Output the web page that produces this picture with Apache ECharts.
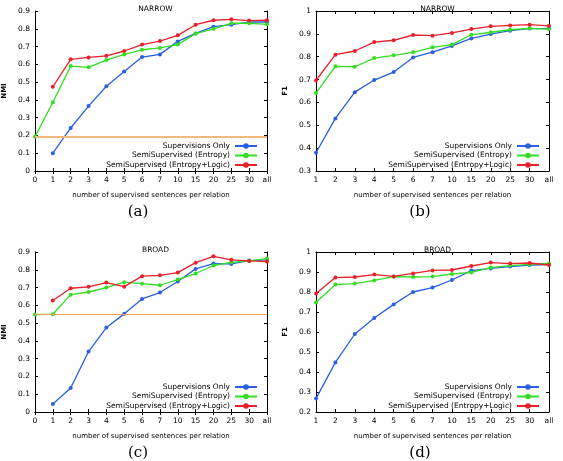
<!DOCTYPE html>
<html><head><meta charset="utf-8">
<script src="https://cdn.jsdelivr.net/npm/echarts@6/dist/echarts.min.js"></script>
<style>html,body{margin:0;padding:0;background:#fff}#c{width:563px;height:461px}</style>
</head><body><div id="c"></div>
<script>
// ---- data ----
var catsNMI = ['0','1','2','3','4','5','6','7','10','15','20','25','30','all'];
var catsF1  = ['1','2','3','4','5','6','7','10','15','20','25','30','all'];
var seriesNames = ['Supervisions Only','SemiSupervised (Entropy)','SemiSupervised (Entropy+Logic)'];

// (a) NARROW NMI
var aSup   = [null,0.100,0.242,0.365,0.477,0.560,0.641,0.656,0.729,0.774,0.812,0.823,0.838,0.838];
var aEnt   = [0.192,0.387,0.590,0.583,0.624,0.656,0.682,0.692,0.711,0.773,0.800,0.831,0.831,0.825];
var aLog   = [null,0.474,0.628,0.639,0.648,0.675,0.711,0.731,0.763,0.823,0.848,0.853,0.846,0.848];
var aBase  = 0.192;
// (b) NARROW F1
var bSup   = [0.380,0.530,0.645,0.698,0.733,0.797,0.820,0.847,0.880,0.899,0.914,0.923,0.923];
var bEnt   = [0.641,0.758,0.756,0.794,0.806,0.819,0.841,0.853,0.896,0.907,0.918,0.924,0.921];
var bLog   = [0.696,0.809,0.825,0.864,0.872,0.895,0.892,0.904,0.921,0.933,0.937,0.940,0.935];
// (c) BROAD NMI
var cSup   = [null,0.045,0.135,0.340,0.475,0.552,0.636,0.672,0.734,0.805,0.835,0.833,0.852,0.856];
var cEnt   = [0.548,0.550,0.660,0.675,0.700,0.730,0.722,0.713,0.745,0.779,0.824,0.842,0.850,0.863];
var cLog   = [null,0.627,0.696,0.704,0.728,0.705,0.764,0.769,0.784,0.840,0.876,0.856,0.850,0.846];
var cBase  = 0.548;
// (d) BROAD F1
var dSup   = [0.267,0.448,0.590,0.670,0.738,0.800,0.822,0.860,0.907,0.918,0.927,0.935,0.937];
var dEnt   = [0.748,0.837,0.842,0.858,0.877,0.875,0.877,0.890,0.898,0.922,0.932,0.938,0.943];
var dLog   = [0.792,0.872,0.875,0.887,0.878,0.893,0.908,0.910,0.930,0.947,0.942,0.945,0.935];

var titles = ['NARROW','NARROW','BROAD','BROAD'];
var yNames = ['NMI','F1','NMI','F1'];
var yRanges = [[0,0.9],[0.3,1],[0,0.9],[0.2,1]];
var captions = ['(a)','(b)','(c)','(d)'];
var xName = 'number of supervised sentences per relation';

// ---- layout / style ----
var colors = ['#2a5fe0','#33dd22','#e8202a'];
var FONT = 'DejaVu Sans';
var panels = [
  {left:34, top:11, cats:catsNMI, data:[aSup,aEnt,aLog], base:aBase, baseColor:'#f5b87a', baseW:2},
  {left:316,top:11, cats:catsF1,  data:[bSup,bEnt,bLog], base:null},
  {left:34, top:252,cats:catsNMI, data:[cSup,cEnt,cLog], base:cBase, baseColor:'#f0a050', baseW:1.2},
  {left:316,top:252,cats:catsF1,  data:[dSup,dEnt,dLog], base:null}
];
var W = 233, H = 160;
var capPos = [[138,212],[420,212],[138,453],[420,453]];

var grids=[], xAxes=[], yAxes=[], series=[], legends=[], titlesOpt=[], graphics=[];
var axLine = {show:true, lineStyle:{color:'#000', width:1}};
var tick = {show:true, inside:true, length:3, lineStyle:{color:'#000'}};
panels.forEach(function(p,i){
  grids.push({left:p.left, top:p.top, width:W, height:H, containLabel:false});
  xAxes.push({type:'category', gridIndex:i, data:p.cats, boundaryGap:false, position:'bottom',
    axisLine:axLine, axisTick:Object.assign({alignWithLabel:true},tick),
    axisLabel:{fontFamily:FONT, fontSize:7.5, color:'#000', margin:5, interval:0},
    splitLine:{show:false},
    name:xName, nameLocation:'middle', nameGap:21, nameTextStyle:{fontFamily:FONT, fontSize:7, color:'#000'}});
  xAxes.push({type:'category', gridIndex:i, data:p.cats, boundaryGap:false, position:'top',
    axisLine:axLine, axisTick:tick, axisLabel:{show:false}, splitLine:{show:false}});
  var r = yRanges[i];
  yAxes.push({type:'value', gridIndex:i, min:r[0], max:r[1], interval:0.1, position:'left',
    axisLine:axLine, axisTick:tick, splitLine:{show:false},
    axisLabel:{fontFamily:FONT, fontSize:7.5, color:'#000', margin:5},
    name:yNames[i], nameLocation:'middle', nameGap:27, nameRotate:90,
    nameTextStyle:{fontFamily:FONT, fontSize:7, fontWeight:'bold', color:'#000'}});
  yAxes.push({type:'value', gridIndex:i, min:r[0], max:r[1], interval:0.1, position:'right',
    axisLine:axLine, axisTick:tick, splitLine:{show:false}, axisLabel:{show:false}});
  p.data.forEach(function(d,k){
    var s = {name:seriesNames[k], type:'line', xAxisIndex:2*i, yAxisIndex:2*i, data:d,
      symbol:'circle', symbolSize:4, showSymbol:true, connectNulls:false,
      lineStyle:{color:colors[k], width:1.3}, itemStyle:{color:colors[k]}, z:3+k, animation:false};
    if(k===1 && p.base!==null){
      s.markLine = {silent:true, symbol:['none','none'], label:{show:false},
        lineStyle:{color:p.baseColor, width:p.baseW, type:'solid'},
        data:[{yAxis:p.base}], animation:false};
    }
    series.push(s);
  });
  legends.push({show:true, orient:'vertical', align:'right', right:563-(p.left+W)+9, top:p.top+131,
    itemGap:1.5, itemWidth:22, itemHeight:7, padding:0,
    data:seriesNames.slice(),
    textStyle:{fontFamily:FONT, fontSize:7.5, color:'#000', lineHeight:7, padding:[0,0,0,0]}, selectedMode:false});
  titlesOpt.push({text:titles[i], left:p.left+W/2, top:p.top-11, textAlign:'center',
    textStyle:{fontFamily:FONT, fontSize:7.5, fontWeight:'normal', color:'#000'}});
  graphics.push({type:'text', x:capPos[i][0], y:capPos[i][1],
    style:{text:captions[i], font:'15px "DejaVu Serif"', fill:'#000', align:'center', verticalAlign:'middle'}});
});

var chart = echarts.init(document.getElementById('c'), null, {renderer:'canvas'});
chart.setOption({
  animation:false, backgroundColor:'#fff',
  title:titlesOpt, grid:grids, xAxis:xAxes, yAxis:yAxes, series:series, legend:legends, graphic:graphics
});
</script></body></html>
